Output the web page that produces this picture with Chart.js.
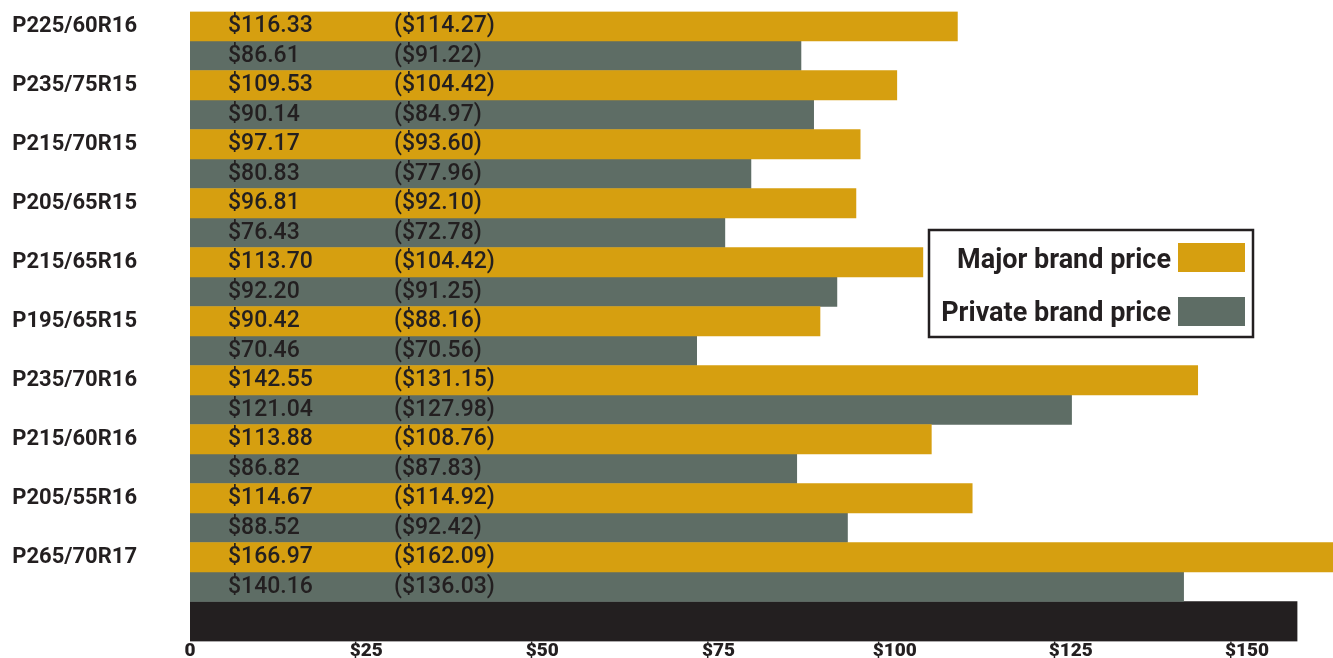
<!DOCTYPE html>
<html>
<head>
<meta charset="utf-8">
<script src="https://cdn.jsdelivr.net/npm/chart.js@4.4.1/dist/chart.umd.min.js"></script>
<style>
  body { margin: 0; background: #fff; }
</style>
</head>
<body>
<canvas id="myChart" width="1333" height="658"></canvas>
<script>
// tire sizes, top to bottom
var sizes = ['P225/60R16', 'P235/75R15', 'P215/70R15', 'P205/65R15', 'P215/65R16',
             'P195/65R15', 'P235/70R16', 'P215/60R16', 'P205/55R16', 'P265/70R17'];

// bar lengths
var majorBar = [108.9, 100.3, 95.1, 94.5, 104.0, 89.4, 143.0, 105.2, 111.0, 167.0];
var privateBar = [86.7, 88.5, 79.6, 75.9, 91.8, 71.9, 125.1, 86.1, 93.3, 141.0];
var baseBar = 157.1;

// printed prices inside the bars
var majorPrice = ['$116.33', '$109.53', '$97.17', '$96.81', '$113.70', '$90.42', '$142.55', '$113.88', '$114.67', '$166.97'];
var majorPrev = ['($114.27)', '($104.42)', '($93.60)', '($92.10)', '($104.42)', '($88.16)', '($131.15)', '($108.76)', '($114.92)', '($162.09)'];
var privatePrice = ['$86.61', '$90.14', '$80.83', '$76.43', '$92.20', '$70.46', '$121.04', '$86.82', '$88.52', '$140.16'];
var privatePrev = ['($91.22)', '($84.97)', '($77.96)', '($72.78)', '($91.25)', '($70.56)', '($127.98)', '($87.83)', '($92.42)', '($136.03)'];

var xTicks = [0, 25, 50, 75, 100, 125, 150];

var GOLD = '#d69f10';
var GRAY = '#5e6d65';
var INK = '#231f20';
var rowPx = 29.5;
var basePx = 40;
var baseRows = basePx / rowPx;

// bar text columns
const barText = {
    id: 'barText',
    afterDatasetsDraw(chart) {
        const ctx = chart.ctx;
        const left = chart.chartArea.left;
        ctx.save();
        ctx.font = '500 23px Roboto';
        ctx.fillStyle = INK;
        ctx.textBaseline = 'middle';
        [[0, majorPrice, majorPrev], [1, privatePrice, privatePrev]].forEach(function (d) {
            chart.getDatasetMeta(d[0]).data.forEach(function (bar, i) {
                ctx.fillText(d[1][i], left + 38, bar.y);
                ctx.fillText(d[2][i], left + 204, bar.y);
            });
        });
        ctx.restore();
    }
};

// boxed legend, text right aligned with swatch after it
const boxLegend = {
    id: 'boxLegend',
    afterDraw(chart) {
        const ctx = chart.ctx;
        ctx.save();
        ctx.lineWidth = 2.5;
        ctx.strokeStyle = INK;
        ctx.strokeRect(929, 230, 324, 107);
        ctx.font = 'bold 27px Roboto';
        ctx.textAlign = 'right';
        ctx.textBaseline = 'alphabetic';
        const rows = [{ ds: 0, base: 268, top: 243 }, { ds: 1, base: 321, top: 297 }];
        rows.forEach(function (r) {
            const ds = chart.data.datasets[r.ds];
            ctx.fillStyle = INK;
            ctx.fillText(ds.label, 1171, r.base);
            ctx.fillStyle = ds.backgroundColor;
            ctx.fillRect(1178, r.top, 67, 29);
        });
        ctx.restore();
    }
};

var ctx = document.getElementById('myChart').getContext('2d');
var chart = new Chart(ctx, {
    type: 'bar',
    data: {
        datasets: [{
            label: 'Major brand price',
            backgroundColor: GOLD,
            data: majorBar.map(function (v, i) { return { x: v, y: i * 2 + 0.5 }; }),
            barThickness: rowPx
        }, {
            label: 'Private brand price',
            backgroundColor: GRAY,
            data: privateBar.map(function (v, i) { return { x: v, y: i * 2 + 1.5 }; }),
            barThickness: rowPx
        }, {
            label: 'base',
            backgroundColor: INK,
            data: [{ x: baseBar, y: sizes.length * 2 + baseRows / 2 }],
            barThickness: basePx
        }]
    },
    options: {
        indexAxis: 'y',
        responsive: false,
        animation: false,
        datasets: { bar: { grouped: false, borderWidth: 0 } },
        layout: { padding: { top: 11.5, left: 0, right: 0, bottom: 0 } },
        plugins: { legend: { display: false }, tooltip: { enabled: false } },
        scales: {
            x: {
                type: 'linear',
                min: 0,
                max: 162.2,
                grid: { display: false, drawTicks: false },
                border: { display: false },
                afterBuildTicks: function (scale) {
                    scale.ticks = xTicks.map(function (v) { return { value: v }; });
                },
                afterFit: function (scale) { scale.height = 16.5; },
                ticks: {
                    padding: -2,
                    maxRotation: 0,
                    color: INK,
                    font: { family: 'Roboto', weight: '900', size: 19 },
                    callback: function (v) { return v === 0 ? '0' : '$' + v; }
                }
            },
            y: {
                type: 'linear',
                reverse: true,
                offset: false,
                min: 0,
                max: sizes.length * 2 + baseRows,
                grid: { display: false, drawTicks: false },
                border: { display: false },
                afterBuildTicks: function (scale) {
                    scale.ticks = sizes.map(function (s, i) { return { value: i * 2 + 0.5 }; });
                },
                afterFit: function (scale) {
                    scale.width = 190;
                    scale.paddingTop = 0;
                    scale.paddingBottom = 0;
                },
                ticks: {
                    padding: 53,
                    color: INK,
                    font: { family: 'Roboto', weight: 'bold', size: 22 },
                    callback: function (v, i) { return sizes[i]; }
                }
            }
        }
    },
    plugins: [barText, boxLegend]
});
</script>
</body>
</html>
